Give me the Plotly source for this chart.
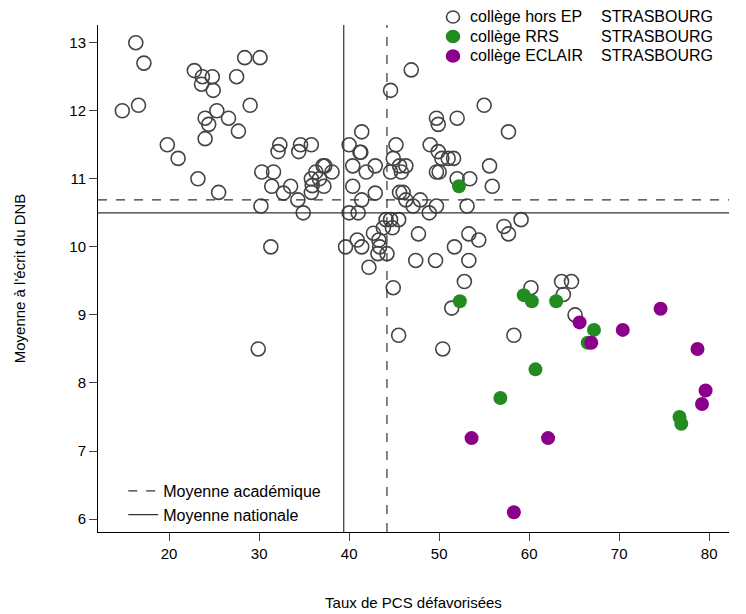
import plotly.graph_objects as go

# collège hors EP
hors_x = [16.3, 17.2, 14.8, 16.6, 22.8, 23.7, 24.8, 23.6, 24.9, 27.5, 28.4, 30.1, 29.0, 25.3,
          24.0, 24.4, 26.6, 24.0, 27.7, 19.8, 21.0, 23.2, 25.5, 30.2, 31.3, 32.3, 32.1, 34.6,
          34.4, 35.8, 30.3, 31.6, 31.4, 33.5, 32.7, 34.3, 34.9, 35.8, 35.9, 35.8, 36.3, 37.1,
          37.3, 38.1, 36.7, 37.2, 39.6, 40.0, 41.4, 41.2, 41.3, 40.4, 41.9, 42.9, 40.4, 41.4,
          42.9, 40.0, 41.0, 40.9, 41.4, 42.2, 42.7, 43.3, 43.4, 43.2, 44.2, 43.8, 44.1, 44.6,
          45.5, 44.8, 44.6, 45.2, 44.9, 44.6, 45.8, 45.6, 46.3, 45.6, 46.0, 46.3, 46.9, 55.0,
          49.7, 49.9, 52.0, 57.7, 49.0, 49.9, 50.3, 51.0, 51.6, 55.6, 49.7, 50.0, 52.0, 53.4,
          55.9, 47.9, 47.1, 49.7, 48.9, 53.1, 59.1, 57.2, 57.7, 47.7, 53.3, 54.4, 51.7, 47.4,
          49.6, 53.3, 52.8, 44.9, 60.2, 63.6, 64.7, 63.8, 65.1, 51.4, 50.4, 58.3, 45.5, 29.9]
hors_y = [13.0, 12.7, 12.0, 12.08, 12.59, 12.5, 12.5, 12.39, 12.3, 12.5, 12.78, 12.78, 12.08, 12.0,
          11.89, 11.8, 11.89, 11.59, 11.7, 11.5, 11.3, 11.0, 10.8, 10.6, 10.0, 11.5, 11.4, 11.5,
          11.4, 11.5, 11.1, 11.1, 10.89, 10.89, 10.79, 10.69, 10.5, 11.0, 10.9, 10.8, 11.1, 11.19,
          11.19, 11.1, 11.0, 10.89, 10.0, 11.5, 11.69, 11.39, 11.39, 11.19, 11.1, 11.19, 10.89, 10.69,
          10.79, 10.5, 10.5, 10.1, 10.0, 9.7, 10.2, 10.1, 10.0, 9.9, 9.9, 10.28, 10.4, 10.4,
          10.4, 10.28, 12.3, 11.5, 11.3, 11.1, 11.1, 11.19, 11.19, 10.8, 10.8, 10.69, 12.6, 12.08,
          11.89, 11.8, 11.89, 11.69, 11.5, 11.4, 11.3, 11.3, 11.3, 11.19, 11.1, 11.1, 11.0, 11.0,
          10.89, 10.69, 10.6, 10.6, 10.5, 10.6, 10.4, 10.3, 10.19, 10.19, 10.19, 10.1, 10.0, 9.8,
          9.8, 9.8, 9.49, 9.4, 9.4, 9.49, 9.49, 9.3, 9.0, 9.1, 8.5, 8.7, 8.7, 8.5]

# collège RRS
rrs_x = [52.2, 52.3, 59.4, 60.3, 63.0, 67.2, 66.5, 60.7, 56.8, 76.7, 76.9]
rrs_y = [10.89, 9.2, 9.29, 9.2, 9.2, 8.78, 8.59, 8.2, 7.78, 7.5, 7.4]

# collège ECLAIR
eclair_x = [65.6, 66.9, 70.4, 74.6, 78.7, 79.6, 79.2, 53.6, 62.1, 58.3]
eclair_y = [8.89, 8.59, 8.78, 9.09, 8.5, 7.89, 7.69, 7.19, 7.19, 6.1]

groups = ["collège hors EP", "collège RRS", "collège ECLAIR"]
ville = "STRASBOURG"

moy_acad = (44.2, 10.69)
moy_nat = (39.4, 10.5)

x_range = [12.1, 82.2]
y_range = [5.81, 13.26]

GREY, GREEN, PURPLE = "#444", "#228b22", "#8b008b"

fig = go.Figure()

fig.add_trace(go.Scatter(
    x=hors_x, y=hors_y, mode="markers", showlegend=False,
    marker=dict(symbol="circle-open", size=14, color=GREY, line=dict(width=1.6)),
))
fig.add_trace(go.Scatter(
    x=rrs_x, y=rrs_y, mode="markers", showlegend=False,
    marker=dict(symbol="circle", size=14, color=GREEN),
))
fig.add_trace(go.Scatter(
    x=eclair_x, y=eclair_y, mode="markers", showlegend=False,
    marker=dict(symbol="circle", size=14, color=PURPLE),
))


def cross(pt):
    xs = [pt[0], pt[0], None, x_range[0], x_range[1]]
    ys = [y_range[0], y_range[1], None, pt[1], pt[1]]
    return xs, ys


xa, ya = cross(moy_acad)
fig.add_trace(go.Scatter(x=xa, y=ya, mode="lines", name="Moyenne académique",
                         line=dict(color="#333", width=1.2, dash="dash")))
xn, yn = cross(moy_nat)
fig.add_trace(go.Scatter(x=xn, y=yn, mode="lines", name="Moyenne nationale",
                         line=dict(color="#333", width=1.2)))

# the page body adds an 8px offset, so margins are shifted back by it
OFF = 7
L, T, W, H = 97 - OFF, 24 - OFF, 631, 507


def px(x):
    return (x - OFF - L) / W


def py(y):
    return (T + H - (y - OFF)) / H


# top-right legend drawn by hand so it does not push the margins
for i, (g, col) in enumerate(zip(groups, [GREY, GREEN, PURPLE])):
    yy = py(16 + 19.5 * i)
    fig.add_shape(type="circle", xref="paper", yref="paper", xsizemode="pixel",
                  ysizemode="pixel", xanchor=px(452), yanchor=yy, x0=-6.5, x1=6.5, y0=-6,
                  y1=6, line=dict(color=GREY if i == 0 else col, width=1.6),
                  fillcolor="rgba(0,0,0,0)" if i == 0 else col)
    fig.add_annotation(x=px(467), y=yy, xref="paper", yref="paper", text=g, showarrow=False,
                       xanchor="left", yanchor="middle", font=dict(size=16))
    fig.add_annotation(x=px(598), y=yy, xref="paper", yref="paper", text=ville,
                       showarrow=False, xanchor="left", yanchor="middle", font=dict(size=16))

fig.update_layout(
    width=746, height=614,
    margin=dict(l=L, r=746 - L - W, t=T, b=614 - T - H),
    plot_bgcolor="white", paper_bgcolor="white",
    font=dict(family="Liberation Sans, Arial", size=15, color="black"),
    legend=dict(x=0.04, y=0.0, xanchor="left", yanchor="bottom", bgcolor="rgba(0,0,0,0)",
                font=dict(size=16)),
)
fig.update_xaxes(range=x_range, showgrid=False, zeroline=False, showline=True, linecolor="black",
                 ticks="outside", ticklen=8, tickvals=[20, 30, 40, 50, 60, 70, 80],
                 automargin=False,
                 title=dict(text="Taux de PCS défavorisées", font=dict(size=15), standoff=36))
fig.update_yaxes(range=y_range, showgrid=False, zeroline=False, showline=True, linecolor="black",
                 ticks="outside", ticklen=8, tickvals=[6, 7, 8, 9, 10, 11, 12, 13],
                 automargin=False,
                 title=dict(text="Moyenne à l'écrit du DNB", font=dict(size=15), standoff=40))

fig.write_html("out.html")
